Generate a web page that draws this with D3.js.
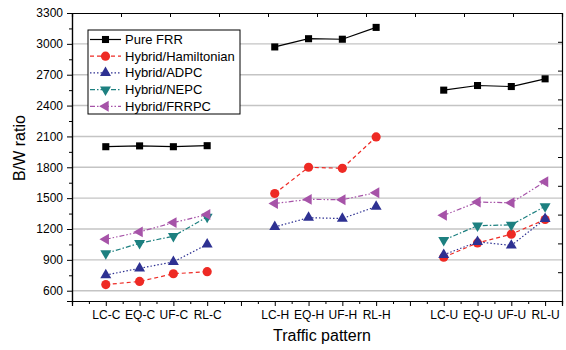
<!DOCTYPE html>
<html>
<head>
<meta charset="utf-8">
<script src="https://cdnjs.cloudflare.com/ajax/libs/d3/7.8.5/d3.min.js"></script>
<style>
  body { margin: 0; background: #fff; }
  text { font-family: "Liberation Sans", Arial, sans-serif; fill: #000; }
</style>
</head>
<body>
<div id="chart"></div>
<script>
// traffic groups and patterns inside each group
var groups = ['C', 'H', 'U'];
var patterns = ['LC', 'EQ', 'UF', 'RL'];

// B/W ratio per series, order: LC-C..RL-C, LC-H..RL-H, LC-U..RL-U
var pureFRR     = [2000, 2008, 2000, 2010, 2970, 3050, 3045, 3160, 2550, 2595, 2585, 2660];
var hamiltonian = [660, 690, 765, 785, 1545, 1800, 1790, 2095, 925, 1065, 1150, 1292];
var adpc        = [752, 818, 880, 1050, 1220, 1310, 1302, 1418, 950, 1075, 1040, 1298];
var nepc        = [962, 1062, 1130, 1318, null, null, null, null, 1092, 1232, 1240, 1420];
var frrpc       = [1100, 1172, 1262, 1340, 1448, 1488, 1485, 1553, 1333, 1462, 1455, 1660];

var yTicks = [600, 900, 1200, 1500, 1800, 2100, 2400, 2700, 3000, 3300];

var seriesNames = ['Pure FRR', 'Hybrid/Hamiltonian', 'Hybrid/ADPC', 'Hybrid/NEPC', 'Hybrid/FRRPC'];
var seriesValues = [pureFRR, hamiltonian, adpc, nepc, frrpc];

var styles = [
  { color: '#000000', dash: null, symbol: d3.symbolSquare, size: 50, rot: 0 },
  { color: '#ee2a24', dash: '4,3', symbol: d3.symbolCircle, size: 66, rot: 0 },
  { color: '#2e3192', dash: '1.5,2', symbol: d3.symbolTriangle, size: 52, rot: 0 },
  { color: '#1d8080', dash: '5,2,1.5,2', symbol: d3.symbolTriangle, size: 52, rot: 180 },
  { color: '#a653a8', dash: '5,2,1.5,2,1.5,2', symbol: d3.symbolTriangle, size: 52, rot: -90 }
];

var width = 566, height = 350;
var margin = { top: 13, right: 4, bottom: 49, left: 72 };
var innerW = width - margin.left - margin.right;
var innerH = height - margin.top - margin.bottom;

var svg = d3.select('#chart').append('svg')
  .attr('width', width).attr('height', height);
var g = svg.append('g').attr('transform', 'translate(' + margin.left + ',' + margin.top + ')');

var x = d3.scaleLinear().domain([0, 14.5]).range([0, innerW]);
var y = d3.scaleLinear().domain([500, 3300]).range([innerH, 0]);

// category -> x value (gap of one slot between groups)
var cats = [];
groups.forEach(function(gr, gi) {
  patterns.forEach(function(p, pi) {
    cats.push({ label: p + '-' + gr, pos: gi * 5 + pi + 1, group: gi });
  });
});

// grid lines
g.append('g').selectAll('line').data(yTicks.slice(0, -1)).enter().append('line')
  .attr('x1', 0).attr('x2', innerW)
  .attr('y1', function(d) { return y(d); }).attr('y2', function(d) { return y(d); })
  .attr('stroke', '#c4c4c4').attr('stroke-width', 1.4);

// left axis
var yAxis = d3.axisLeft(y).tickValues(yTicks).tickSize(5).tickPadding(4).tickFormat(d3.format('d'));
var ya = g.append('g').call(yAxis);
ya.selectAll('text').style('font-size', '12px');
g.append('g').call(d3.axisLeft(y).tickValues(d3.range(750, 3300, 300)).tickSize(3).tickFormat(''));

// bottom axis
var xa = g.append('g').attr('transform', 'translate(0,' + innerH + ')')
  .call(d3.axisBottom(x).tickValues(d3.range(0, 15, 1)).tickSize(5)
    .tickFormat(function(d) {
      var c = cats.find(function(c) { return c.pos === d; });
      return c ? c.label : '';
    }).tickPadding(4));
xa.selectAll('text').style('font-size', '12px');
g.append('g').attr('transform', 'translate(0,' + innerH + ')')
  .call(d3.axisBottom(x).tickValues(d3.range(0.5, 14.5, 1)).tickSize(3).tickFormat(''));

// top and right frame axes with inward ticks
var topS = d3.scaleLinear().domain([0, 10]).range([0, innerW]);
g.append('g').call(d3.axisTop(topS).ticks(10).tickSize(-4).tickFormat(''));
var rightS = d3.scaleLinear().domain([0, 10]).range([innerH, 0]);
g.append('g').attr('transform', 'translate(' + innerW + ',0)')
  .call(d3.axisRight(rightS).ticks(10).tickSize(-4).tickFormat(''));

g.selectAll('.domain').attr('stroke', '#000').attr('stroke-width', 1.2);
g.selectAll('.tick line').attr('stroke', '#000');

// series
var line = d3.line()
  .defined(function(d) { return d.v != null; })
  .x(function(d) { return x(d.pos); })
  .y(function(d) { return y(d.v); });

seriesValues.forEach(function(vals, si) {
  var st = styles[si];
  var pts = cats.map(function(c, i) { return { pos: c.pos, group: c.group, v: vals[i] }; });
  groups.forEach(function(gr, gi) {
    var seg = pts.filter(function(p) { return p.group === gi && p.v != null; });
    if (!seg.length) return;
    g.append('path').datum(seg)
      .attr('d', line)
      .attr('fill', 'none')
      .attr('stroke', st.color)
      .attr('stroke-width', 1.2)
      .attr('stroke-dasharray', st.dash);
  });
  g.append('g').selectAll('path').data(pts.filter(function(p) { return p.v != null; })).enter()
    .append('path')
    .attr('d', d3.symbol().type(st.symbol).size(st.size))
    .attr('transform', function(d) {
      return 'translate(' + x(d.pos) + ',' + y(d.v) + ') rotate(' + st.rot + ')';
    })
    .attr('fill', st.color);
});

// legend
var lg = svg.append('g').attr('transform', 'translate(88,30)');
lg.append('rect').attr('width', 152).attr('height', 84)
  .attr('fill', '#fff').attr('stroke', '#000').attr('stroke-width', 1);
seriesNames.forEach(function(name, i) {
  var st = styles[i];
  var ly = 9.5 + i * 16.7;
  lg.append('line').attr('x1', 2).attr('x2', 33).attr('y1', ly).attr('y2', ly)
    .attr('stroke', st.color).attr('stroke-width', 1.2).attr('stroke-dasharray', st.dash);
  lg.append('path').attr('d', d3.symbol().type(st.symbol).size(st.size))
    .attr('transform', 'translate(17.5,' + ly + ') rotate(' + st.rot + ')')
    .attr('fill', st.color);
  lg.append('text').attr('x', 37).attr('y', ly + 4.5).style('font-size', '13px').text(name);
});

// axis titles
svg.append('text').attr('x', 322).attr('y', 341)
  .attr('text-anchor', 'middle').style('font-size', '16px').text('Traffic pattern');
svg.append('text').attr('transform', 'translate(25,148) rotate(-90)')
  .attr('text-anchor', 'middle').style('font-size', '16px').text('B/W ratio');
</script>
</body>
</html>
